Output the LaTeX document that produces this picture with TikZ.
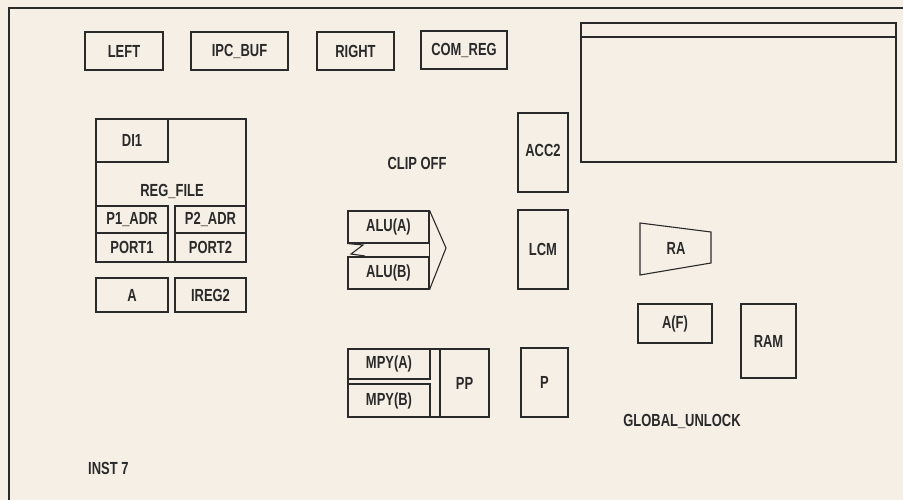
\documentclass[tikz,border=0pt]{standalone}
\usepackage{fontspec}
\usetikzlibrary{fit}
\newfontfamily\dfont[FakeStretch=0.74]{Liberation Sans}
\definecolor{bg}{HTML}{F6EFE5}
\definecolor{ink}{HTML}{2A2A2A}
\tikzset{
  txt/.style={inner sep=0pt, text=ink, font=\dfont\bfseries\fontsize{17.5}{19}\selectfont},
  blk/.style={draw=ink, line width=1.1pt, inner sep=0pt, label={[txt]center:#1}},
  blk/.default={},
  lbl/.style={txt},
  ln/.style={draw=ink, line width=1.1pt}
}
\begin{document}
\begin{tikzpicture}[x=1pt,y=-1pt]
\fill[bg] (0,0) rectangle (903,500);
\useasboundingbox (0,0) rectangle (903,500);
% frame
\coordinate (ftr) at (903,8);
\coordinate (ftl) at (9,8);
\coordinate (fbl) at (9,500);
\draw[ln] (ftr) -- (ftl) -- (fbl);
% top row
\node[blk=LEFT, fit={(85,32) (163,70)}] (left) {};
\node[blk=IPC\_BUF, fit={(191,32) (288,70)}] (ipc) {};
\node[blk=RIGHT, fit={(317,32) (394,70)}] (right) {};
\node[blk=COM\_REG, fit={(421,31) (507,69)}] (com) {};
% big box top right
\node[blk, fit={(581,23) (896,162)}] (big) {};
\node[blk, fit={(581,23) (896,37)}] (bigtop) {};
% register file
\node[blk, fit={(96,119) (246,262)}] (reg) {};
\node[lbl] (regl) at (172,191) {REG\_FILE};
\node[blk=DI1, fit={(96,119) (168,162)}] (di1) {};
\node[blk=P1\_ADR, fit={(96,206) (168,233)}] (p1a) {};
\node[blk=PORT1, fit={(96,233) (168,262)}] (port1) {};
\node[blk=P2\_ADR, fit={(175,206) (246,233)}] (p2a) {};
\node[blk=PORT2, fit={(175,233) (246,262)}] (port2) {};
\node[blk=A, fit={(96,278) (168,312)}] (a) {};
\node[blk=IREG2, fit={(175,278) (246,312)}] (ireg2) {};
% clip off
\node[lbl] (clip) at (417,163) {CLIP OFF};
% ACC2, LCM
\node[blk, fit={(518,113) (568,192)}] (acc2) {};
\node[lbl] (acc2l) at (543,150) {ACC2};
\node[blk=LCM, fit={(518,210) (568,289)}] (lcm) {};
% ALU
\node[blk=ALU(A), fit={(348,211) (429,243)}] (aluA) {};
\node[blk=ALU(B), fit={(348,257) (429,289)}] (aluB) {};
\coordinate (alutip) at (446,248);
\draw[ln, line join=miter] (aluA.north east) -- (alutip) -- (aluB.south east);
\draw[ln] (aluA.south east) -- (aluB.north east);
\draw[ln] (aluA.south west) -- (363,245) -- (351,254) -- (365,256);
% MPY
\node[blk, fit={(348,349) (489,417)}] (mpy) {};
\node[blk=MPY(A), fit={(348,349) (430,379)}] (mpyA) {};
\node[blk=MPY(B), fit={(348,384) (430,417)}] (mpyB) {};
\node[blk=PP, fit={(440,349) (489,417)}] (pp) {};
\node[blk=P, fit={(521,348) (568,417)}] (p) {};
% RA trapezoid
\coordinate (ra1) at (640,223);
\coordinate (ra2) at (711,232);
\coordinate (ra3) at (711,263);
\coordinate (ra4) at (640,275);
\draw[ln] (ra1) -- (ra2) -- (ra3) -- (ra4) -- cycle;
\node[lbl] (ra) at (676,248) {RA};
\node[blk=A(F), fit={(638,304) (712,343)}] (af) {};
\node[blk=RAM, fit={(741,304) (796,378)}] (ram) {};
\node[lbl] (glob) at (682,421) {GLOBAL\_UNLOCK};
\node[lbl, anchor=west] (inst) at (88,468) {INST 7};
\end{tikzpicture}
\end{document}
